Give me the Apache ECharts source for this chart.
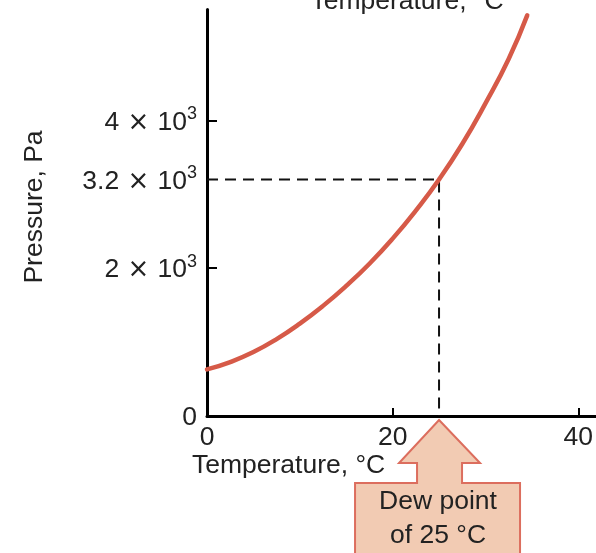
<!DOCTYPE html>
<html><head><meta charset="utf-8">
<script src="https://cdn.jsdelivr.net/npm/echarts@6/dist/echarts.min.js"></script>
<style>html,body{margin:0;padding:0;background:#fff}#c{width:596px;height:553px}</style>
</head><body><div id="c"></div>
<script>
// Saturation vapour pressure curve
const temperatures = [0, 2.5, 5, 7.5, 10, 12.5, 15, 17.5, 20, 22.5, 25, 27.5, 30, 32.5, 34.5];
const pressures    = [630, 730, 865, 1040, 1250, 1490, 1760, 2060, 2400, 2780, 3200, 3680, 4230, 4830, 5420];
// Dew point guide
const dewPointT = 25;
const dewPointP = 3200;
// Axis ticks / labels
const xLabelValues = [0, 20, 40];
const xTickValues = [20, 40];
const yLabelValues = [0, 2000, 3200, 4000];
const yTickValues = [2000, 4000];
const yLabelMantissa = { 2000: '2', 3200: '3.2', 4000: '4' };
const xAxisName = 'Temperature, °C';
const yAxisName = 'Pressure, Pa';
const topTitle = 'Temperature, °C';
const calloutLines = ['Dew point', 'of 25 °C'];

const FONT = 'Liberation Sans';
const FS = 26.5;
const font = FS + 'px "' + FONT + '"';
const chart = echarts.init(document.getElementById('c'), null, { renderer: 'canvas' });

const curve = temperatures.map((t, i) => [t, pressures[i]]);
const guide = [[0, dewPointP], [dewPointT, dewPointP], [dewPointT, 0]];

function yLabel(v) {
  if (v === 0) return '{m|0}';
  const m = yLabelMantissa[v];
  return m ? '{m|' + m + '}{x| × }{m|10}{s|3}' : '';
}

chart.setOption({
  animation: false,
  backgroundColor: '#fff',
  grid: { left: 207, right: 0, top: 9.5, bottom: 137, containLabel: false },
  xAxis: {
    type: 'value', min: 0, max: 41.9,
    axisLine: { lineStyle: { color: '#000', width: 3 } },
    axisTick: { show: true, inside: true, length: 8, lineStyle: { color: '#000', width: 2 }, customValues: xTickValues },
    axisLabel: { customValues: xLabelValues, color: '#222', fontFamily: FONT, fontSize: FS, margin: 8 },
    splitLine: { show: false }
  },
  yAxis: {
    type: 'value', min: 0, max: 5500,
    axisLine: { show: true, lineStyle: { color: '#000', width: 3 } },
    axisTick: { show: true, inside: true, length: 10, lineStyle: { color: '#000', width: 2 }, customValues: yTickValues },
    axisLabel: {
      customValues: yLabelValues, margin: 10,
      formatter: yLabel,
      rich: {
        m: { fontFamily: FONT, fontSize: FS, color: '#222', lineHeight: 31, verticalAlign: 'bottom' },
        x: { fontFamily: 'DejaVu Sans', fontSize: 26, color: '#222', lineHeight: 31, verticalAlign: 'bottom' },
        s: { fontFamily: FONT, fontSize: 18, color: '#222', lineHeight: 18, verticalAlign: 'top' }
      }
    },
    splitLine: { show: false }
  },
  series: [
    {
      type: 'line', data: guide, symbol: 'none', silent: true,
      lineStyle: { color: '#111', width: 2, type: [11, 7] }, z: 2
    },
    {
      type: 'line', data: curve, smooth: true, symbol: 'none',
      lineStyle: { color: '#d65a48', width: 4.5, cap: 'round' }, z: 3
    }
  ]
});

const tip = chart.convertToPixel({ gridIndex: 0 }, [dewPointT, 0]);
const arrowPts = [[0, 4], [41, 47], [23, 47], [23, 67], [81, 67], [81, 150], [-84, 150], [-84, 67], [-22, 67], [-22, 47], [-40, 47]];

chart.setOption({
  graphic: [
    {
      type: 'text', x: 407, y: 2,
      style: { text: topTitle, font: font, fill: '#222', align: 'center', verticalAlign: 'middle' }
    },
    {
      type: 'text', x: 192, y: 466,
      style: { text: xAxisName, font: font, fill: '#222', align: 'left', verticalAlign: 'middle' }
    },
    {
      type: 'text', x: 35, y: 207, rotation: Math.PI / 2,
      style: { text: yAxisName, font: font, fill: '#222', align: 'center', verticalAlign: 'middle' }
    },
    {
      type: 'group', x: tip[0], y: tip[1],
      children: [
        { type: 'polygon', shape: { points: arrowPts }, style: { fill: '#f2cbb3', stroke: '#dc6e5e', lineWidth: 2 } },
        { type: 'text', x: -1, y: 86, style: { text: calloutLines[0], font: font, fill: '#222', align: 'center', verticalAlign: 'middle' } },
        { type: 'text', x: -1, y: 120, style: { text: calloutLines[1], font: font, fill: '#222', align: 'center', verticalAlign: 'middle' } }
      ]
    }
  ]
});
</script>
</body></html>
